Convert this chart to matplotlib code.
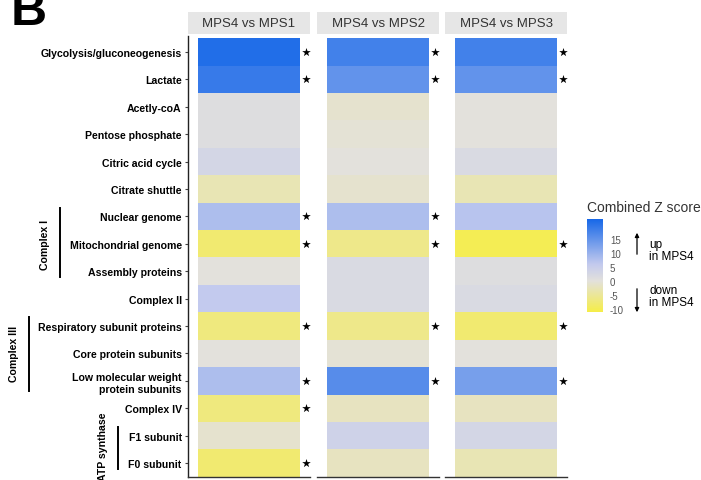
import numpy as np
import matplotlib
matplotlib.use('Agg')
import matplotlib.pyplot as plt
from matplotlib import rcParams
from matplotlib.colors import LinearSegmentedColormap, Normalize
from matplotlib import transforms
from matplotlib.lines import Line2D
from matplotlib.patches import FancyArrowPatch

rcParams['font.family'] = ['Liberation Sans', 'DejaVu Sans']

# pathway rows, top to bottom
rows = ['Glycolysis/gluconeogenesis', 'Lactate', 'Acetly-coA', 'Pentose phosphate',
        'Citric acid cycle', 'Citrate shuttle', 'Nuclear genome', 'Mitochondrial genome',
        'Assembly proteins', 'Complex II', 'Respiratory subunit proteins',
        'Core protein subunits', 'Low molecular weight\nprotein subunits', 'Complex IV',
        'F1 subunit', 'F0 subunit']
comparisons = ['MPS4 vs MPS1', 'MPS4 vs MPS2', 'MPS4 vs MPS3']

# combined Z scores per comparison
z_mps1 = [21, 19, 1, 1, 3, -3, 8, -8, 0, 6, -7, 0, 8, -7, -1, -8]
z_mps2 = [18, 15, -1, -0.5, 0, -1, 8, -6, 2, 2, -6, -0.5, 16, -2, 4, -2]
z_mps3 = [18, 15, 0, 0, 2, -3, 7, -10, 1, 2, -8, 0, 13, -2, 3, -3]
zscores = [z_mps1, z_mps2, z_mps3]

# significant rows (stars)
sig_mps1 = [0, 1, 6, 7, 10, 12, 13, 15]
sig_mps2 = [0, 1, 6, 7, 10, 12]
sig_mps3 = [0, 1, 7, 10, 12]
significant = [sig_mps1, sig_mps2, sig_mps3]

# left side group brackets: (label, first row, last row)
groups = [('Complex I', 6, 8), ('Complex III', 10, 12), ('ATP synthase', 14, 15)]

cbar_ticks = [15, 10, 5, 0, -5, -10]
zmin, zmax = -11, 22

W, H = 701, 481
fig = plt.figure(figsize=(W / 100, H / 100), dpi=100)

cmap = LinearSegmentedColormap.from_list(
    'zs', [(0.0, '#f6ee48'), (11 / 33, '#e3e1dc'), (17 / 33, '#c3caee'), (1.0, '#1768e8')])
norm = Normalize(zmin, zmax)


def fx(x):
    return x / W


def fy(y):
    return 1 - y / H


panel_left = [188, 317, 445]
panel_w = 122
top, bottom = 37, 478
n = len(rows)
ypos = np.arange(n)

axes = []
for i, comp in enumerate(comparisons):
    ax = fig.add_axes([fx(panel_left[i]), fy(bottom), panel_w / W, (bottom - top) / H])
    axes.append(ax)
    vals = np.array(zscores[i], dtype=float).reshape(-1, 1)
    ax.pcolormesh([0.5, 1.5], np.arange(n + 1) - 0.5, vals, cmap=cmap, norm=norm,
                  shading='flat')
    sy = np.array(significant[i])
    ax.scatter(np.full(len(sy), 1.56), sy, marker='*', s=42, c='black', zorder=3,
               clip_on=False, linewidths=0)
    ax.set_xlim(0.4, 1.6)
    ax.set_ylim(15.51, -0.58)
    ax.set_xticks([])
    for s in ['top', 'right']:
        ax.spines[s].set_visible(False)
    ax.spines['bottom'].set_color('#333333')
    ax.spines['bottom'].set_linewidth(1.0)
    if i == 0:
        ax.spines['left'].set_color('#222222')
        ax.spines['left'].set_linewidth(1.0)
        ax.set_yticks(ypos)
        ax.set_yticklabels(rows, fontsize=7.6, fontweight='bold', linespacing=1.25)
        ax.tick_params(axis='y', length=2.5, width=0.8, color='#444444', pad=2)
    else:
        ax.spines['left'].set_visible(False)
        ax.set_yticks([])

    # facet strip
    sax = fig.add_axes([fx(panel_left[i]), fy(35), panel_w / W, 22 / H])
    sax.set_facecolor('#e6e6e6')
    sax.set_xticks([])
    sax.set_yticks([])
    for s in sax.spines.values():
        s.set_visible(False)
    sax.text(0.5, 0.5, comp, ha='center', va='center', fontsize=9.5, color='#333333',
             transform=sax.transAxes)

# group brackets on the left
ax0 = axes[0]
tr = transforms.blended_transform_factory(fig.transFigure, ax0.transData)
bracket_x = {'Complex I': (60, 45), 'Complex III': (29, 14), 'ATP synthase': (118, 103)}
text_shift = {'Complex I': 0.0, 'Complex III': 0.0, 'ATP synthase': -0.12}
for label, r0, r1 in groups:
    bx, tx = bracket_x[label]
    y0 = r0 - 0.32
    y1 = r1 + (0.37 if label == 'Complex III' else 0.2)
    fig.add_artist(Line2D([fx(bx), fx(bx)], [y0, y1], transform=tr, color='black', lw=1.4))
    fig.text(fx(tx), (r0 + r1) / 2 + text_shift[label], label, transform=tr, rotation=90,
             ha='center', va='center', fontsize=7.6, fontweight='bold')

# panel letter
fig.text(fx(11), fy(25), 'B', fontsize=36, fontweight='bold', ha='left', va='baseline')

# colour bar legend
cax = fig.add_axes([fx(587), fy(313), 16 / W, 93 / H])
grad = np.linspace(zmin, zmax, 256).reshape(-1, 1)
cax.imshow(grad, aspect='auto', origin='lower', cmap=cmap, norm=norm,
           extent=[0, 1, zmin, zmax])
cax.set_xticks([])
cax.yaxis.tick_right()
cax.set_yticks(cbar_ticks)
cax.set_yticklabels([str(t) for t in cbar_ticks], fontsize=7, color='#555555')
cax.tick_params(axis='y', length=0, pad=5)
for s in cax.spines.values():
    s.set_visible(False)
fig.text(fx(587), fy(208), 'Combined Z score', fontsize=10, color='#333333',
         ha='left', va='center')

# direction arrows
fig.add_artist(FancyArrowPatch((fx(637), fy(258)), (fx(637), fy(231)),
                               transform=fig.transFigure, arrowstyle='-|>',
                               mutation_scale=6, color='black', lw=0.9))
fig.add_artist(FancyArrowPatch((fx(637), fy(287)), (fx(637), fy(316)),
                               transform=fig.transFigure, arrowstyle='-|>',
                               mutation_scale=6, color='black', lw=0.9))
fig.text(fx(649), fy(251), 'up\nin MPS4', fontsize=8.5, ha='left', va='center',
         linespacing=1.05)
fig.text(fx(649), fy(297), 'down\nin MPS4', fontsize=8.5, ha='left', va='center',
         linespacing=1.05)

fig.savefig('out.png', dpi=100)
